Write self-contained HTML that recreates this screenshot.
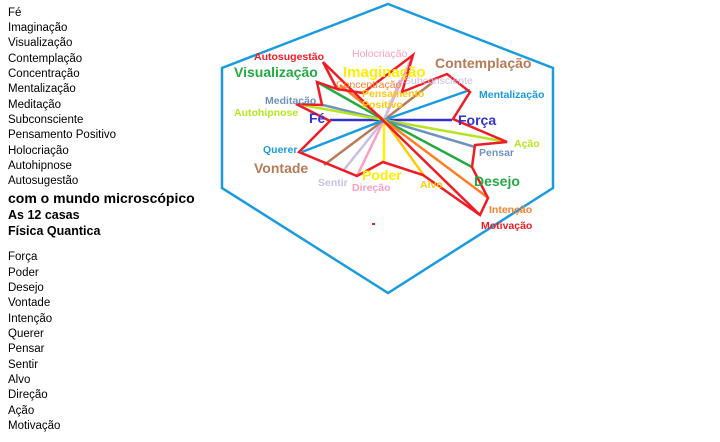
<!DOCTYPE html>
<html><head><meta charset="utf-8"><style>
html,body{margin:0;padding:0;background:#fff;width:720px;height:442px;overflow:hidden}
svg{position:absolute;left:0;top:0}
</style></head><body>
<svg width="720" height="442" xmlns="http://www.w3.org/2000/svg">
<g font-family="Liberation Sans, sans-serif" font-size="11.5" fill="#000">
<text x="8" y="16">Fé</text>
<text x="8" y="31">Imaginação</text>
<text x="8" y="46">Visualização</text>
<text x="8" y="62">Contemplação</text>
<text x="8" y="77">Concentração</text>
<text x="8" y="92">Mentalização</text>
<text x="8" y="108">Meditação</text>
<text x="8" y="123">Subconsciente</text>
<text x="8" y="138">Pensamento Positivo</text>
<text x="8" y="154">Holocriação</text>
<text x="8" y="169">Autohipnose</text>
<text x="8" y="184">Autosugestão</text>
<text x="8" y="203" font-weight="bold" font-size="14">com o mundo microscópico</text>
<text x="8" y="219" font-weight="bold" font-size="12.5">As 12 casas</text>
<text x="8" y="235" font-weight="bold" font-size="12.5">Física Quantica</text>
<text x="8" y="260">Força</text>
<text x="8" y="276">Poder</text>
<text x="8" y="291">Desejo</text>
<text x="8" y="306">Vontade</text>
<text x="8" y="322">Intenção</text>
<text x="8" y="337">Querer</text>
<text x="8" y="352">Pensar</text>
<text x="8" y="368">Sentir</text>
<text x="8" y="383">Alvo</text>
<text x="8" y="398">Direção</text>
<text x="8" y="414">Ação</text>
<text x="8" y="429">Motivação</text>
</g>
<polygon points="388,4 553,68 553,188 388,293 222,188 222,68" fill="none" stroke="#1a9be0" stroke-width="2.5"/>
<g stroke-width="2.5" fill="none">
<line x1="384" y1="120" x2="330" y2="120" stroke="#3333cc"/>
<line x1="384" y1="120" x2="452" y2="120" stroke="#3333cc"/>
<line x1="384" y1="120" x2="317" y2="82" stroke="#22aa44"/>
<line x1="384" y1="120" x2="340" y2="85" stroke="#ff7f27"/>
<line x1="384" y1="120" x2="433" y2="82" stroke="#b97a57"/>
<line x1="384" y1="120" x2="413" y2="55" stroke="#ff9ec0"/>
<line x1="384" y1="120" x2="400" y2="80" stroke="#c8bfe7"/>
<line x1="384" y1="120" x2="470" y2="90" stroke="#1a9be0"/>
<line x1="384" y1="120" x2="323" y2="105" stroke="#7092be"/>
<line x1="384" y1="120" x2="297" y2="104" stroke="#b5e61d"/>
<line x1="384" y1="120" x2="507" y2="142" stroke="#b5e61d"/>
<line x1="384" y1="120" x2="475" y2="147" stroke="#7092be"/>
<line x1="384" y1="120" x2="472" y2="167" stroke="#22aa44"/>
<line x1="384" y1="120" x2="487" y2="197" stroke="#ff7f27"/>
<line x1="384" y1="120" x2="425" y2="177" stroke="#ffc90e"/>
<line x1="384" y1="120" x2="384" y2="162" stroke="#ffee00"/>
<line x1="384" y1="120" x2="357" y2="176" stroke="#ff9ec0"/>
<line x1="384" y1="120" x2="343" y2="171" stroke="#c8bfe7"/>
<line x1="384" y1="120" x2="324" y2="165" stroke="#b97a57"/>
<line x1="384" y1="120" x2="302" y2="152" stroke="#1a9be0"/>
<line x1="323" y1="62" x2="480" y2="215" stroke="#ee1c24"/>
<polygon points="323,62 337,89 363,93 413,55 402,92 447,74 470,92 453,119 507,142 475,145 472,167 488,198 480,215 423,175 383,162 357,176 299,152 330,121 296,104 322,105 317,82 337,89" stroke="#ee1c24" stroke-linejoin="miter"/>
</g>
<rect x="372" y="223" width="3" height="2" fill="#ee1c24"/>
<g font-family="Liberation Sans, sans-serif" font-weight="bold">
<text x="254" y="60" font-size="10.5" fill="#ee1c24">Autosugestão</text>
<text x="352" y="57" font-size="10.5" fill="#ff9ec0" font-weight="normal">Holocriação</text>
<text x="234" y="77" font-size="14" fill="#22aa44">Visualização</text>
<text x="343" y="77" font-size="15" fill="#ffee00">Imaginação</text>
<text x="435" y="68" font-size="14" fill="#b97a57">Contemplação</text>
<text x="336" y="88" font-size="10.5" fill="#ff7f27" font-weight="normal">Concentração</text>
<text x="404" y="84" font-size="10.5" fill="#c8bfe7" font-weight="normal">Subconsciente</text>
<text x="479" y="98" font-size="10.5" fill="#1a9be0">Mentalização</text>
<text x="362" y="97" font-size="10.5" fill="#ffc90e">Pensamento</text>
<text x="362" y="108" font-size="10.5" fill="#ffc90e">Positivo</text>
<text x="265" y="104" font-size="10.5" fill="#7092be">Meditação</text>
<text x="234" y="116" font-size="10.5" fill="#b5e61d">Autohipnose</text>
<text x="309" y="123" font-size="14" fill="#3333cc">Fé</text>
<text x="458" y="125" font-size="14" fill="#3333cc">Força</text>
<text x="514" y="147" font-size="10.5" fill="#b5e61d">Ação</text>
<text x="479" y="156" font-size="10.5" fill="#7092be">Pensar</text>
<text x="263" y="153" font-size="10.5" fill="#1a9be0">Querer</text>
<text x="254" y="173" font-size="14" fill="#b97a57">Vontade</text>
<text x="362" y="180" font-size="14" fill="#ffee00">Poder</text>
<text x="318" y="186" font-size="10.5" fill="#c8bfe7">Sentir</text>
<text x="352" y="191" font-size="10.5" fill="#ff9ec0">Direção</text>
<text x="420" y="188" font-size="10.5" fill="#ffc90e">Alvo</text>
<text x="474" y="186" font-size="14" fill="#22aa44">Desejo</text>
<text x="489" y="213" font-size="10.5" fill="#ff7f27">Intenção</text>
<text x="481" y="229" font-size="10.5" fill="#ee1c24">Motivação</text>
</g>
</svg>
</body></html>
